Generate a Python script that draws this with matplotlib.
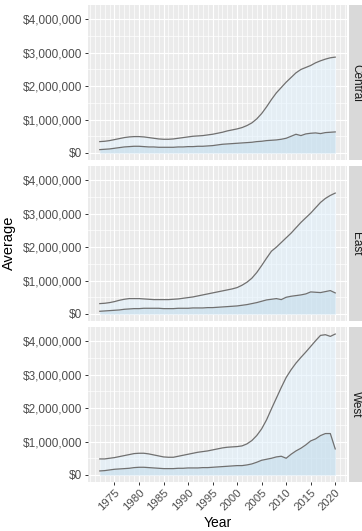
import numpy as np
import matplotlib
matplotlib.use('Agg')
import matplotlib.pyplot as plt
from matplotlib.ticker import FuncFormatter, MultipleLocator

plt.rcParams['font.family'] = ['Liberation Sans', 'DejaVu Sans']

years = np.arange(1972, 2021)
regions = ['Central', 'East', 'West']

# values in millions of dollars
central_high = [0.34, 0.35, 0.37, 0.40, 0.43, 0.46, 0.48, 0.49, 0.49,
                0.48, 0.46, 0.44, 0.42, 0.41, 0.41, 0.42, 0.44, 0.46, 0.48,
                0.50, 0.51, 0.52, 0.54, 0.56, 0.59, 0.62, 0.66, 0.69, 0.72,
                0.76, 0.82, 0.90, 1.02, 1.18, 1.38, 1.60, 1.80, 1.96, 2.12,
                2.26, 2.40, 2.50, 2.56, 2.62, 2.70, 2.76, 2.81, 2.85, 2.87]
central_low = [0.10, 0.11, 0.12, 0.14, 0.16, 0.18, 0.19, 0.20, 0.20,
               0.19, 0.18, 0.18, 0.17, 0.17, 0.17, 0.17, 0.18, 0.18, 0.19,
               0.19, 0.20, 0.20, 0.21, 0.22, 0.24, 0.26, 0.27, 0.28, 0.29,
               0.30, 0.31, 0.32, 0.34, 0.35, 0.37, 0.38, 0.39, 0.41, 0.44,
               0.50, 0.56, 0.52, 0.57, 0.59, 0.60, 0.58, 0.61, 0.62, 0.63]
east_high = [0.31, 0.32, 0.34, 0.37, 0.41, 0.44, 0.46, 0.46, 0.46,
             0.45, 0.44, 0.43, 0.43, 0.43, 0.43, 0.44, 0.45, 0.47, 0.49,
             0.51, 0.54, 0.57, 0.60, 0.63, 0.66, 0.69, 0.72, 0.75, 0.79,
             0.86, 0.95, 1.07, 1.24, 1.45, 1.67, 1.88, 2.00, 2.14, 2.28,
             2.42, 2.58, 2.74, 2.88, 3.02, 3.18, 3.34, 3.46, 3.55, 3.62]
east_low = [0.08, 0.09, 0.10, 0.11, 0.12, 0.14, 0.15, 0.16, 0.16,
            0.17, 0.17, 0.17, 0.17, 0.16, 0.16, 0.16, 0.17, 0.17, 0.17,
            0.18, 0.18, 0.18, 0.19, 0.19, 0.20, 0.21, 0.22, 0.23, 0.24,
            0.26, 0.28, 0.31, 0.34, 0.38, 0.42, 0.44, 0.46, 0.43, 0.50,
            0.53, 0.55, 0.57, 0.60, 0.66, 0.65, 0.64, 0.67, 0.70, 0.63]
west_high = [0.48, 0.48, 0.50, 0.52, 0.55, 0.58, 0.61, 0.64, 0.65,
             0.65, 0.63, 0.60, 0.57, 0.54, 0.53, 0.53, 0.56, 0.59, 0.62,
             0.65, 0.68, 0.70, 0.72, 0.75, 0.78, 0.81, 0.83, 0.84, 0.85,
             0.87, 0.93, 1.03, 1.18, 1.38, 1.65, 1.98, 2.30, 2.62, 2.92,
             3.15, 3.35, 3.52, 3.68, 3.85, 4.02, 4.18, 4.20, 4.15, 4.22]
west_low = [0.12, 0.13, 0.15, 0.17, 0.18, 0.19, 0.20, 0.22, 0.23,
            0.23, 0.22, 0.21, 0.20, 0.19, 0.19, 0.19, 0.20, 0.20, 0.21,
            0.21, 0.21, 0.22, 0.22, 0.23, 0.24, 0.25, 0.26, 0.27, 0.28,
            0.28, 0.30, 0.33, 0.38, 0.44, 0.47, 0.50, 0.54, 0.56, 0.50,
            0.62, 0.72, 0.80, 0.90, 1.02, 1.08, 1.18, 1.24, 1.24, 0.78]

highs = [central_high, east_high, west_high]
lows = [central_low, east_low, west_low]

xticks = np.arange(1975, 2021, 5)
yticks = np.arange(0, 4000001, 1000000)

# ggplot-style 5% expansion, shared scales
ymax = max(max(h) for h in highs) * 1e6
ypad = 0.05 * ymax
xpad = 0.05 * (years[-1] - years[0])

fig = plt.figure(figsize=(3.62, 5.31), dpi=100)
W, H = 362, 531
panels = [(5, 160), (166, 321), (327, 482)]
left, right = 88, 347

money = FuncFormatter(lambda v, p: '${:,.0f}'.format(v))

for i, (top, bot) in enumerate(panels):
    ax = fig.add_axes([left / W, 1 - bot / H, (right - left) / W, (bot - top) / H])
    ax.set_facecolor('#ebebeb')
    for s in ax.spines.values():
        s.set_visible(False)

    hi = np.array(highs[i]) * 1e6
    lo = np.array(lows[i]) * 1e6
    ax.fill_between(years, 0, hi, color='#e1f1fd', alpha=0.55, lw=0, zorder=2)
    ax.fill_between(years, 0, lo, color='#c2dbea', alpha=0.55, lw=0, zorder=2)
    ax.plot(years, hi, color='#707070', lw=0.9, zorder=3)
    ax.plot(years, lo, color='#707070', lw=0.9, zorder=3)

    ax.set_xlim(years[0] - xpad, years[-1] + xpad)
    ax.set_ylim(-ypad, ymax + ypad)
    ax.set_xticks(xticks)
    ax.xaxis.set_minor_locator(MultipleLocator(1))
    ax.set_yticks(yticks)
    ax.yaxis.set_minor_locator(MultipleLocator(500000))
    ax.grid(which='major', color='white', lw=0.8, zorder=0)
    ax.grid(which='minor', color='white', lw=0.5, zorder=0)
    ax.set_axisbelow(True)
    ax.tick_params(which='minor', length=0)
    ax.tick_params(which='major', length=2.5, width=0.7, color='#333333',
                   labelcolor='#4d4d4d', pad=1.5)
    ax.yaxis.set_major_formatter(money)
    ax.tick_params(axis='y', labelsize=8.5)

    if i < 2:
        ax.tick_params(axis='x', bottom=False, labelbottom=False)
    else:
        ax.set_xticklabels([str(y) for y in xticks], rotation=45,
                           ha='right', va='top', rotation_mode='anchor',
                           fontsize=8.2)

    # facet strip on the right
    sax = fig.add_axes([349 / W, 1 - bot / H, 22 / W, (bot - top) / H])
    sax.set_facecolor('#d9d9d9')
    sax.set_xticks([])
    sax.set_yticks([])
    for s in sax.spines.values():
        s.set_visible(False)
    fig.text(356 / W, 1 - (top + bot) / 2 / H, regions[i], rotation=-90,
             ha='center', va='center', fontsize=8.5, color='#1a1a1a')

fig.text(218 / W, 1 - 523 / H, 'Year', ha='center', va='center',
         fontsize=10, color='black')
fig.text(9 / W, 1 - 243 / H, 'Average', ha='center', va='center',
         rotation=90, fontsize=10.5, color='black')

fig.savefig('out.png', dpi=100)
